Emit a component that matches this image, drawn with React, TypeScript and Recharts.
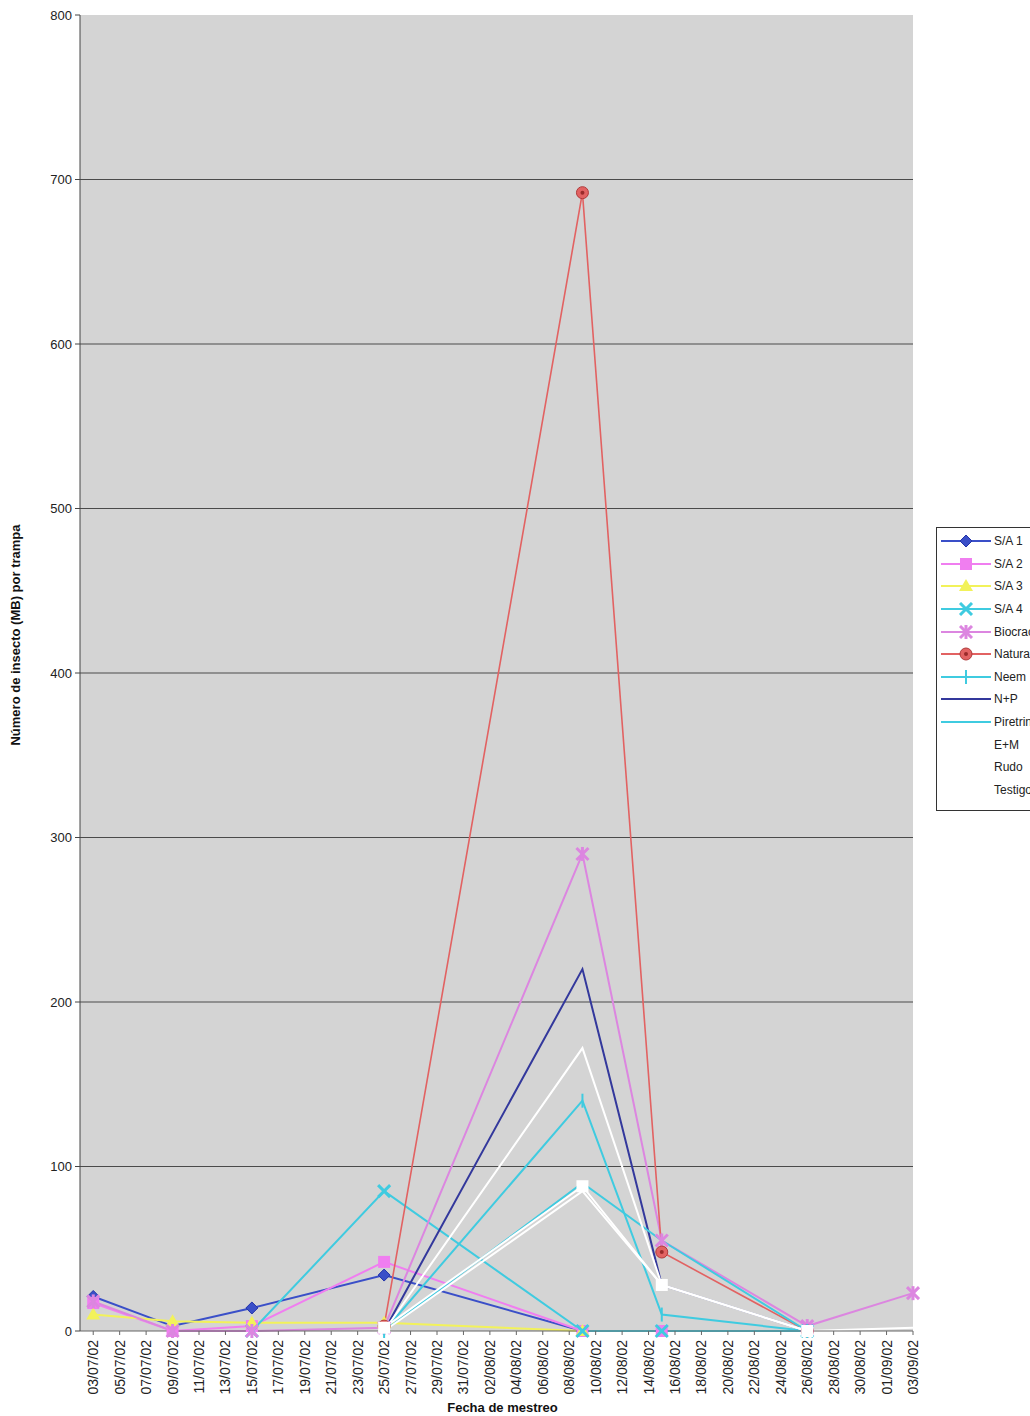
import React from "react";
import { LineChart, Line, XAxis, YAxis, CartesianGrid, Legend } from "recharts";

// ---- Data ----
// sampling days (0 = 03/07/02)
const sampleDays = [0, 6, 12, 22, 37, 43, 54, 62];

const sa1 = [21, 3, 14, 34, 0, 0, 0, null];
const sa2 = [17, 0, 3, 42, 0, 0, 0, null];
const sa3 = [10, 6, 5, 5, 0, null, null, null];
const sa4 = [null, null, 0, 85, 0, 0, 0, null];
const biocrack = [18, 0, 0, 2, 290, 55, 3, 23];
const naturalis = [null, null, null, 3, 692, 48, 0, null];
const neem = [null, null, null, 0, 140, 10, 0, null];
const np = [null, null, null, 0, 220, 28, 0, null];
const piretrina = [null, null, null, 0, 90, 55, 0, null];
const em = [null, null, null, 0, 172, 28, 0, null];
const rudo = [null, null, null, 2, 88, 28, 0, null];
const testigo = [null, null, null, 0, 85, 28, 0, 2];

const tickDays = [0, 2, 4, 6, 8, 10, 12, 14, 16, 18, 20, 22, 24, 26, 28, 30, 32, 34, 36, 38, 40, 42, 44, 46, 48, 50, 52, 54, 56, 58, 60, 62];
const tickLabels = [
  "03/07/02", "05/07/02", "07/07/02", "09/07/02", "11/07/02", "13/07/02", "15/07/02", "17/07/02",
  "19/07/02", "21/07/02", "23/07/02", "25/07/02", "27/07/02", "29/07/02", "31/07/02", "02/08/02",
  "04/08/02", "06/08/02", "08/08/02", "10/08/02", "12/08/02", "14/08/02", "16/08/02", "18/08/02",
  "20/08/02", "22/08/02", "24/08/02", "26/08/02", "28/08/02", "30/08/02", "01/09/02", "03/09/02",
];
const yTicks = [0, 100, 200, 300, 400, 500, 600, 700, 800];
const gridValues = [100, 200, 300, 400, 500, 600, 700];

const seriesNames = ["S/A 1", "S/A 2", "S/A 3", "S/A 4", "Biocrack", "Naturalis", "Neem", "N+P", "Piretrina", "E+M", "Rudo", "Testigo"];
const seriesValues = [sa1, sa2, sa3, sa4, biocrack, naturalis, neem, np, piretrina, em, rudo, testigo];

// ---- Styles ----
const seriesStyle = [
  { color: "#3a4fc8", shape: "diamond", width: 2 },
  { color: "#f07ef0", shape: "square", width: 2 },
  { color: "#f2f25a", shape: "triangle", width: 2 },
  { color: "#3fcbe0", shape: "x", width: 2 },
  { color: "#dc86e0", shape: "star", width: 2 },
  { color: "#e26262", shape: "circle", width: 1.6 },
  { color: "#3fcbe0", shape: "bar", width: 2 },
  { color: "#33389c", shape: "none", width: 2 },
  { color: "#3fcbe0", shape: "none", width: 2 },
  { color: "#ffffff", shape: "none", width: 2 },
  { color: "#ffffff", shape: "whitesq", width: 2 },
  { color: "#ffffff", shape: "none", width: 2 },
];

const FONT = "Arial, 'Liberation Sans', Helvetica, sans-serif";

const rows = sampleDays.map((d, i) => {
  const r: any = { day: d };
  seriesValues.forEach((arr, k) => {
    r["s" + k] = arr[i];
  });
  return r;
});

function marker(shape: string, color: string, cx: number, cy: number, key?: any) {
  switch (shape) {
    case "diamond":
      return (
        <polygon key={key} points={`${cx},${cy - 6} ${cx + 6},${cy} ${cx},${cy + 6} ${cx - 6},${cy}`} fill={color} stroke="#2233aa" strokeWidth={1} />
      );
    case "square":
      return <rect key={key} x={cx - 6} y={cy - 6} width={12} height={12} fill={color} />;
    case "whitesq":
      return <rect key={key} x={cx - 6} y={cy - 6} width={12} height={12} fill="#ffffff" />;
    case "triangle":
      return <polygon key={key} points={`${cx},${cy - 7} ${cx + 7},${cy + 5} ${cx - 7},${cy + 5}`} fill={color} />;
    case "x":
      return (
        <g key={key} stroke={color} strokeWidth={3}>
          <line x1={cx - 6} y1={cy - 6} x2={cx + 6} y2={cy + 6} />
          <line x1={cx - 6} y1={cy + 6} x2={cx + 6} y2={cy - 6} />
        </g>
      );
    case "star":
      return (
        <g key={key} stroke={color} strokeWidth={3}>
          <line x1={cx - 6} y1={cy - 6} x2={cx + 6} y2={cy + 6} />
          <line x1={cx - 6} y1={cy + 6} x2={cx + 6} y2={cy - 6} />
          <line x1={cx} y1={cy - 7} x2={cx} y2={cy + 7} />
        </g>
      );
    case "circle":
      return (
        <g key={key}>
          <circle cx={cx} cy={cy} r={6} fill={color} stroke="#b03a3a" strokeWidth={1} />
          <circle cx={cx} cy={cy} r={2} fill="#9a2a2a" />
        </g>
      );
    case "bar":
      return (
        <g key={key} stroke={color} strokeWidth={2}>
          <line x1={cx} y1={cy - 7} x2={cx} y2={cy + 7} />
        </g>
      );
    default:
      return <g key={key} />;
  }
}

const makeDot = (shape: string, color: string) => (props: any) => {
  const { cx, cy, index, value } = props;
  if (cx == null || cy == null || value == null || isNaN(cy)) return <g key={"d" + index} />;
  return marker(shape, color, cx, cy, "d" + index);
};

const XTick = (props: any) => {
  const { x, y, payload } = props;
  const idx = tickDays.indexOf(payload.value);
  const label = idx >= 0 ? tickLabels[idx] : "";
  return (
    <text
      x={x}
      y={y}
      transform={`rotate(-90, ${x}, ${y})`}
      textAnchor="end"
      dy="0.36em"
      fontSize={14}
      fontFamily={FONT}
      fill="#222"
    >
      {label}
    </text>
  );
};

const LegendBox = () => (
  <div
    style={{
      width: 130,
      height: 284,
      border: "1px solid #333",
      background: "#fff",
      boxSizing: "border-box",
      fontFamily: FONT,
      fontSize: 12,
      color: "#222",
      paddingTop: 2,
    }}
  >
    {seriesNames.map((n, i) => (
      <div key={n} style={{ height: 22.6, display: "flex", alignItems: "center" }}>
        <svg width={54} height={14} style={{ display: "block", marginLeft: 2 }}>
          <line x1={2} y1={7} x2={52} y2={7} stroke={seriesStyle[i].color} strokeWidth={2} />
          {marker(seriesStyle[i].shape === "whitesq" ? "none" : seriesStyle[i].shape, seriesStyle[i].color, 27, 7)}
        </svg>
        <span style={{ marginLeft: 1, whiteSpace: "nowrap" }}>{n}</span>
      </div>
    ))}
  </div>
);

export default function App() {
  return (
    <div style={{ position: "absolute", left: 0, top: 0, width: 1030, height: 1416, overflow: "hidden", background: "#fff" }}>
      <LineChart width={1030} height={1416} data={rows} margin={{ top: 15, right: 117, bottom: 0, left: 0 }}>
        <CartesianGrid
          vertical={false}
          stroke="#4a4a4a"
          strokeWidth={1}
          fill="#d4d4d4"
          fillOpacity={1}
          horizontalValues={gridValues}
        />
        <XAxis
          dataKey="day"
          type="number"
          domain={[-1, 62]}
          ticks={tickDays}
          interval={0}
          height={85}
          tick={<XTick />}
          tickSize={4}
          tickMargin={5}
          stroke="#666"
          label={{
            value: "Fecha de mestreo",
            position: "insideBottom",
            offset: 4,
            dx: 6,
            style: { fontFamily: FONT, fontSize: 13, fontWeight: "bold", fill: "#111" },
          }}
        />
        <YAxis
          type="number"
          domain={[0, 800]}
          ticks={yTicks}
          interval={0}
          width={80}
          tickSize={5}
          tickMargin={3}
          stroke="#444"
          tick={{ fontSize: 13, fontFamily: FONT, fill: "#222" }}
          label={{
            value: "Número de insecto (MB) por trampa",
            angle: -90,
            position: "insideLeft",
            dx: 10,
            dy: -38,
            style: { fontFamily: FONT, fontSize: 13, fontWeight: "bold", fill: "#111", textAnchor: "middle" },
          }}
        />
        <Legend
          layout="vertical"
          align="center"
          verticalAlign="middle"
          wrapperStyle={{ left: 936, top: 527, width: 130, height: 284 }}
          content={() => <LegendBox />}
        />
        {seriesNames.map((n, k) => (
          <Line
            key={n}
            type="linear"
            dataKey={"s" + k}
            name={n}
            stroke={seriesStyle[k].color}
            strokeWidth={seriesStyle[k].width}
            dot={makeDot(seriesStyle[k].shape, seriesStyle[k].color)}
            activeDot={false}
            isAnimationActive={false}
            connectNulls={false}
          />
        ))}
      </LineChart>
    </div>
  );
}
